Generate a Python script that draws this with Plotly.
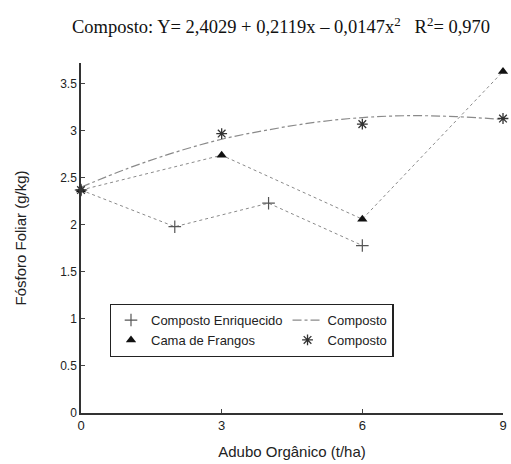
import plotly.graph_objects as go

x_enriq = [0, 2, 4, 6]
y_enriq = [2.37, 1.98, 2.23, 1.78]

x_cama = [0, 3, 6, 9]
y_cama = [2.37, 2.74, 2.06, 3.63]

x_comp = [0, 3, 6, 9]
y_comp = [2.37, 2.97, 3.07, 3.13]

x_fit = [0, 1, 2, 3, 4, 5, 6, 7, 8, 9]
y_fit = [2.40, 2.60, 2.77, 2.91, 3.01, 3.09, 3.14, 3.16, 3.15, 3.12]

x_ticks = [0, 3, 6, 9]
y_ticks = [0, 0.5, 1, 1.5, 2, 2.5, 3, 3.5]

title_text = "Composto: Y= 2,4029 + 0,2119x – 0,0147x<sup>2</sup>   R<sup>2</sup>= 0,970"

grey = "#8a8a8a"
fig = go.Figure()

# lines (no legend)
fig.add_trace(go.Scatter(x=x_enriq, y=y_enriq, mode="lines", showlegend=False,
                         line=dict(color=grey, width=1, dash="dot"), cliponaxis=False))
fig.add_trace(go.Scatter(x=x_cama, y=y_cama, mode="lines", showlegend=False,
                         line=dict(color=grey, width=1, dash="dot"), cliponaxis=False))

# legend order: CE, Composto(line), CdF, Composto(star)
fig.add_trace(go.Scatter(x=x_enriq, y=y_enriq, mode="markers", name="Composto Enriquecido",
                         marker=dict(symbol="cross-thin", size=9, color="#555",
                                     line=dict(color="#555", width=1.2)),
                         cliponaxis=False))
fig.add_trace(go.Scatter(x=x_fit, y=y_fit, mode="lines", name="Composto", line_shape="spline",
                         line=dict(color=grey, width=1.2, dash="dashdot"), cliponaxis=False))
fig.add_trace(go.Scatter(x=x_cama, y=y_cama, mode="markers", name="Cama de Frangos",
                         marker=dict(symbol="triangle-up", size=9, color="#111"),
                         cliponaxis=False))
fig.add_trace(go.Scatter(x=x_comp, y=y_comp, mode="markers", name="Composto",
                         marker=dict(symbol="asterisk-open", size=9, color="#333",
                                     line=dict(color="#333", width=1.3)),
                         cliponaxis=False))

fig.update_layout(
    width=511, height=464,
    margin=dict(l=81, r=4, t=63, b=51),
    paper_bgcolor="white", plot_bgcolor="white",
    font=dict(family="Liberation Sans, Arial, sans-serif", color="#222", size=12),
    title=dict(text=title_text, x=0.55, xanchor="center", y=0.942, yanchor="middle",
               font=dict(family="Liberation Serif, Times New Roman, serif", size=18.5, color="#111")),
    legend=dict(orientation="h", x=0.068, y=0.312, xanchor="left", yanchor="top",
                bgcolor="white", bordercolor="#222", borderwidth=1.3,
                font=dict(size=13, family="Liberation Sans, Arial, sans-serif", color="#222"),
                itemwidth=30, tracegroupgap=0),
    xaxis=dict(range=[0, 9], tickvals=x_ticks, ticks="inside", ticklen=4, tickcolor="#444",
               showline=True, linecolor="#333", linewidth=1.5, showgrid=False, zeroline=False,
               tickfont=dict(size=13), title=dict(text="Adubo Orgânico (t/ha)", font=dict(size=15), standoff=14)),
    yaxis=dict(range=[0, 3.72], tickvals=y_ticks, ticktext=[str(v) for v in y_ticks],
               ticks="inside", ticklen=4, tickcolor="#444",
               showline=True, linecolor="#333", linewidth=1.5, showgrid=False, zeroline=False,
               tickfont=dict(size=12), title=dict(text="Fósforo Foliar (g/kg)", font=dict(size=15), standoff=30)),
)

fig.write_html("out.html")
